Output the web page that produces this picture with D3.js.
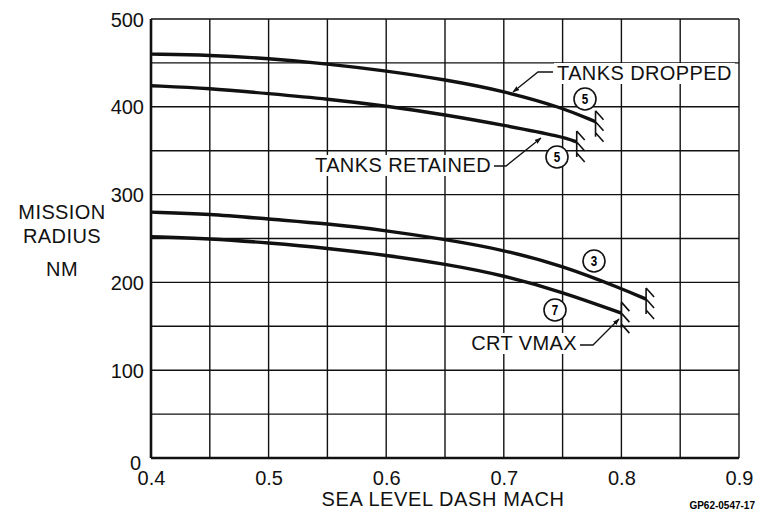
<!DOCTYPE html>
<meta charset="utf-8">
<style>
body { margin: 0; background: #fff; }
.chart { font-family: "Liberation Sans", Arial, sans-serif; }
.grid line { stroke: #111; stroke-width: 1.4; }
.curve { fill: none; stroke: #111; stroke-width: 3.4; }
.lbl { font-size: 20px; fill: #111; }
.leader { fill: none; stroke: #111; stroke-width: 1.3; }
.hatch { fill: none; stroke: #111; stroke-width: 1.6; }
</style>
<svg class="chart" width="760" height="514"></svg>
<script src="https://d3js.org/d3.v7.min.js"></script>
<script>

// values
var xTicks = [0.4, 0.5, 0.6, 0.7, 0.8, 0.9];
var yTicks = [0, 100, 200, 300, 400, 500];

var droppedMach   = [0.40, 0.45, 0.50, 0.55, 0.60, 0.65, 0.70, 0.75, 0.778];
var droppedRadius = [460, 459, 455, 449, 441, 431, 418, 399, 383];

var retainedMach   = [0.40, 0.45, 0.50, 0.55, 0.60, 0.65, 0.70, 0.75, 0.762];
var retainedRadius = [424, 421, 415, 409, 401, 391, 379, 366, 360];

var conf3Mach   = [0.40, 0.45, 0.50, 0.55, 0.60, 0.65, 0.70, 0.75, 0.80, 0.821];
var conf3Radius = [280, 278, 272, 267, 259, 249, 237, 219, 193, 181];

var conf7Mach   = [0.40, 0.45, 0.50, 0.55, 0.60, 0.65, 0.70, 0.75, 0.80];
var conf7Radius = [252, 250, 245, 239, 231, 221, 208, 189, 165];

var svg = d3.select("svg"),
    margin = {top: 19, left: 151, right: 21, bottom: 56},
    width = +svg.attr("width") - margin.left - margin.right,
    height = +svg.attr("height") - margin.top - margin.bottom;

var x = d3.scaleLinear().domain([0.4, 0.9]).range([0, width]),
    y = d3.scaleLinear().domain([0, 500]).range([height, 0]);

svg.append("rect").attr("width", 760).attr("height", 514).attr("fill", "#fff");

var g = svg.append("g")
    .attr("transform", "translate(" + margin.left + "," + margin.top + ")");

// grid
var grid = g.append("g").attr("class", "grid");
grid.selectAll(".vx")
    .data(d3.range(0, 11).map(function(i) { return 0.4 + i * 0.05; }))
    .enter().append("line")
    .attr("x1", function(d) { return x(d); })
    .attr("x2", function(d) { return x(d); })
    .attr("y1", 0).attr("y2", height);
grid.selectAll(".hy")
    .data(d3.range(0, 11).map(function(i) { return i * 50; }))
    .enter().append("line")
    .attr("y1", function(d) { return y(d); })
    .attr("y2", function(d) { return y(d); })
    .attr("x1", 0).attr("x2", width);

// heavier left and bottom frame
g.append("line").attr("x1", 0).attr("x2", 0).attr("y1", 0).attr("y2", height)
    .attr("stroke", "#111").attr("stroke-width", 2.6);
g.append("line").attr("x1", 0).attr("x2", width).attr("y1", height).attr("y2", height)
    .attr("stroke", "#111").attr("stroke-width", 2.6);

// axes (labels only)
g.append("g")
    .attr("transform", "translate(0," + height + ")")
    .call(d3.axisBottom(x).tickValues(xTicks).tickSize(0).tickPadding(8)
        .tickFormat(d3.format(".1f")))
    .call(function(a) { a.select(".domain").remove(); })
    .selectAll("text")
    .attr("class", "lbl")
    .attr("dy", "0.95em");

g.append("g")
    .call(d3.axisLeft(y).tickValues(yTicks).tickSize(0).tickPadding(7))
    .call(function(a) { a.select(".domain").remove(); })
    .selectAll("text")
    .attr("class", "lbl")
    .attr("dy", function(d) { return d === 0 ? "0.55em" : "0.35em"; })
    .attr("dx", function(d) { return d === 0 ? "-3" : "0"; });

g.selectAll(".tick text").attr("font-size", null).attr("font-family", null);

svg.append("text").attr("class", "lbl")
    .attr("x", margin.left + width / 2 - 2).attr("y", 506)
    .attr("text-anchor", "middle")
    .attr("letter-spacing", "0.6px")
    .text("SEA LEVEL DASH MACH");

svg.append("text")
    .attr("x", 755).attr("y", 509)
    .attr("text-anchor", "end")
    .attr("font-size", 10).attr("font-weight", "bold")
    .text("GP62-0547-17");

var yTitle = svg.append("text").attr("class", "lbl").attr("text-anchor", "middle")
    .attr("letter-spacing", "0.4px");
yTitle.append("tspan").attr("x", 62).attr("y", 219).text("MISSION");
yTitle.append("tspan").attr("x", 62).attr("y", 243).text("RADIUS");
yTitle.append("tspan").attr("x", 62).attr("y", 276).text("NM");

// curves
var line = d3.line()
    .x(function(d) { return x(d[0]); })
    .y(function(d) { return y(d[1]); })
    .curve(d3.curveBasis);

var series = [
    d3.zip(droppedMach, droppedRadius),
    d3.zip(retainedMach, retainedRadius),
    d3.zip(conf3Mach, conf3Radius),
    d3.zip(conf7Mach, conf7Radius)
];

g.selectAll(".curve")
    .data(series)
    .enter().append("path")
    .attr("class", "curve")
    .attr("d", line);

// hatch at the end of each curve (limit marks)
series.forEach(function(s) {
    var e = s[s.length - 1], ex = x(e[0]), ey = y(e[1]);
    var p = d3.path();
    p.moveTo(ex, ey - 11); p.lineTo(ex, ey + 15);
    [-11, 0, 11].forEach(function(o) {
        p.moveTo(ex, ey + o); p.lineTo(ex + 8, ey + o + 9);
    });
    g.append("path").attr("class", "hatch").attr("d", p.toString());
});

// arrow marker
svg.append("defs").append("marker")
    .attr("id", "arr").attr("viewBox", "0 0 10 10")
    .attr("refX", 9).attr("refY", 5)
    .attr("markerWidth", 7).attr("markerHeight", 7)
    .attr("markerUnits", "userSpaceOnUse")
    .attr("orient", "auto")
    .append("path").attr("d", "M0,1.5 L10,5 L0,8.5 Z").attr("fill", "#111");

function label(txt, tx, ty, anchor, leader) {
    var bg = svg.append("rect").attr("fill", "#fff");
    var t = svg.append("text").attr("class", "lbl")
        .attr("x", tx).attr("y", ty).attr("text-anchor", anchor)
        .attr("letter-spacing", "0.4px").text(txt);
    var b = t.node().getBBox();
    bg.attr("x", b.x - 3).attr("y", b.y + 1)
        .attr("width", b.width + 6).attr("height", b.height - 1);
    svg.append("path").attr("class", "leader")
        .attr("d", d3.line()(leader))
        .attr("marker-end", "url(#arr)");
}

label("TANKS DROPPED", 557, 80, "start", [[553, 72], [538, 72], [513, 92]]);
label("TANKS RETAINED", 491, 172, "end", [[494, 166], [506, 166], [541, 138]]);
label("CRT VMAX", 577, 350, "end", [[580, 345], [593, 345], [619, 319]]);

// circled configuration numbers
var circles = [
    {n: "5", cx: 585, cy: 99},
    {n: "5", cx: 557, cy: 157},
    {n: "3", cx: 594, cy: 261},
    {n: "7", cx: 555, cy: 310}
];
var cg = svg.selectAll(".cn").data(circles).enter().append("g");
cg.append("circle")
    .attr("cx", function(d) { return d.cx; })
    .attr("cy", function(d) { return d.cy; })
    .attr("r", 11)
    .attr("fill", "#fff").attr("stroke", "#111").attr("stroke-width", 1.6);
cg.append("text")
    .attr("x", function(d) { return d.cx; })
    .attr("y", function(d) { return d.cy + 5.5; })
    .attr("text-anchor", "middle")
    .attr("font-size", 15.5).attr("font-weight", "bold")
    .attr("transform", function(d) { return "translate(" + d.cx + ",0) scale(0.75,1) translate(" + (-d.cx) + ",0)"; })
    .text(function(d) { return d.n; });

</script>
